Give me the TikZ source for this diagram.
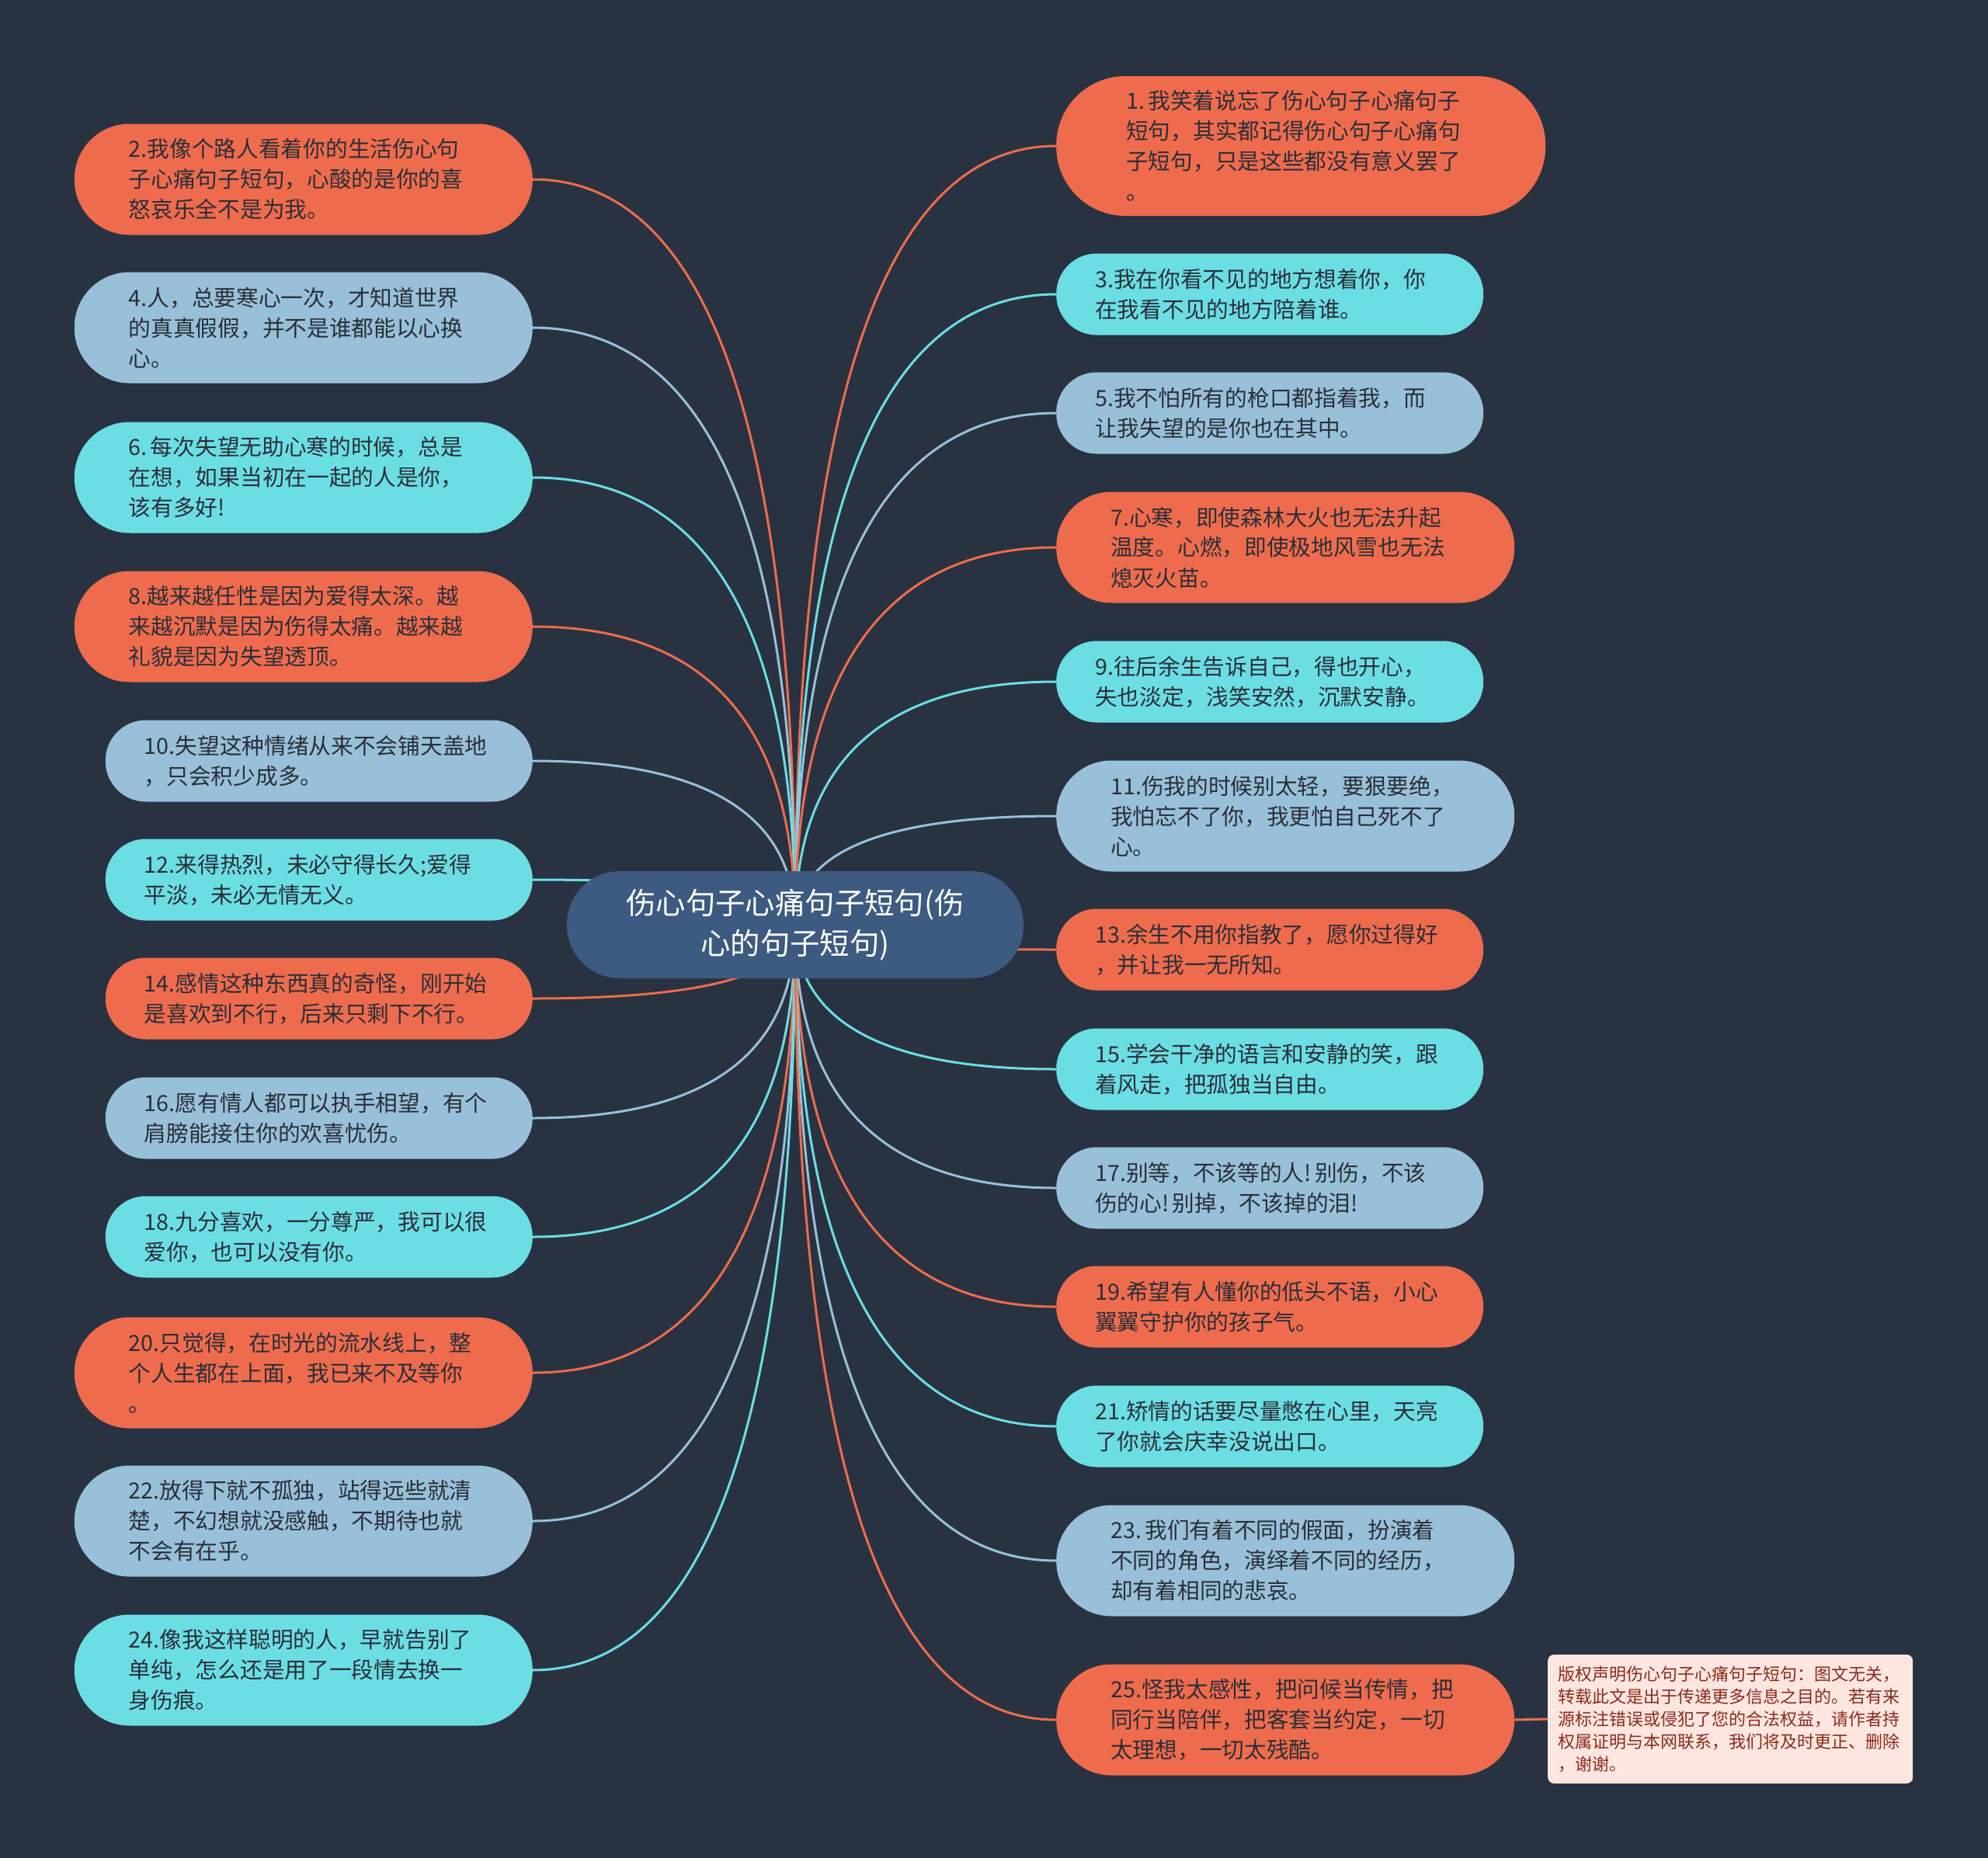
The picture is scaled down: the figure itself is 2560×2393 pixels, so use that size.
\documentclass[tikz,border=0pt]{standalone}
\usepackage{fontspec}
\setmainfont{Noto Sans CJK SC}
\usetikzlibrary{calc}
\definecolor{bgc}{HTML}{293241}
\definecolor{oc}{HTML}{EE6C4D}
\definecolor{cc}{HTML}{6BDEE4}
\definecolor{bc}{HTML}{98C1D9}
\definecolor{rc}{HTML}{3D5A80}
\definecolor{txc}{HTML}{2A2E38}
\definecolor{cpfill}{HTML}{FDE6E0}
\definecolor{cptext}{HTML}{8A2B1B}
\pgfdeclarelayer{bglayer}
\pgfdeclarelayer{linelayer}
\pgfsetlayers{bglayer,linelayer,main}
\newcommand{\leftconn}[2]{%
  \coordinate (tmpq) at (root.center |- #1.east);
  \draw[conn,draw=#2] (root.center) .. controls ($(root.center)!0.6667!(tmpq)$) and ($(#1.east)!0.6667!(tmpq)$) .. (#1.east);}
\newcommand{\rightconn}[2]{%
  \coordinate (tmpq) at (root.center |- #1.west);
  \draw[conn,draw=#2] (root.center) .. controls ($(root.center)!0.6667!(tmpq)$) and ($(#1.west)!0.6667!(tmpq)$) .. (#1.west);}
\newcommand{\nsp}{\hspace{0.15em}}
\begin{document}
\begin{tikzpicture}[x=1pt,y=-1pt,
  leaf/.style={inner sep=0pt, text width=450pt, align=left, text=txc,
    font={\fontsize{28.7}{39}\selectfont}},
  lfour/.style={leaf, minimum width=630pt, minimum height=180pt, rounded corners=89pt},
  lthree/.style={leaf, minimum width=590pt, minimum height=143pt, rounded corners=71pt},
  ltwo/.style={leaf, minimum width=550pt, minimum height=105pt, rounded corners=52pt},
  rootbox/.style={fill=rc, inner sep=0pt, minimum width=588pt, minimum height=138pt,
    rounded corners=68pt, align=center, text=white, font={\fontsize{38.4}{52}\selectfont}},
  cpbox/.style={fill=cpfill, inner sep=0pt, minimum width=470pt, minimum height=166pt,
    rounded corners=8pt, text width=444pt, align=left, text=cptext,
    font={\fontsize{22}{29}\selectfont}},
  conn/.style={line width=3pt}]
\begin{pgfonlayer}{bglayer}
  \fill[bgc] (0,0) rectangle (2560,2393);
\end{pgfonlayer}
\useasboundingbox (0,0) rectangle (2560,2393);

\node[rootbox] (root) at (1024,1191) {伤心句子心痛句子短句(伤\\心的句子短句)};

% left side
\node[lthree, fill=oc, anchor=east] (n2) at (686,231) {2.我像个路人看着你的生活伤心句\\子心痛句子短句，心酸的是你的喜\\怒哀乐全不是为我。};
\node[lthree, fill=bc, anchor=east] (n4) at (686,422) {4.人，总要寒心一次，才知道世界\\的真真假假，并不是谁都能以心换\\心。};
\node[lthree, fill=cc, anchor=east] (n6) at (686,615) {6.\nsp 每次失望无助心寒的时候，总是\\在想，如果当初在一起的人是你，\\该有多好!};
\node[lthree, fill=oc, anchor=east] (n8) at (686,807) {8.越来越任性是因为爱得太深。越\\来越沉默是因为伤得太痛。越来越\\礼貌是因为失望透顶。};
\node[ltwo, fill=bc, anchor=east] (n10) at (686,980) {10.失望这种情绪从来不会铺天盖地\\，只会积少成多。};
\node[ltwo, fill=cc, anchor=east] (n12) at (686,1133) {12.来得热烈，未必守得长久;爱得\\平淡，未必无情无义。};
\node[ltwo, fill=oc, anchor=east] (n14) at (686,1286) {14.感情这种东西真的奇怪，刚开始\\是喜欢到不行，后来只剩下不行。};
\node[ltwo, fill=bc, anchor=east] (n16) at (686,1440) {16.愿有情人都可以执手相望，有个\\肩膀能接住你的欢喜忧伤。};
\node[ltwo, fill=cc, anchor=east] (n18) at (686,1593) {18.九分喜欢，一分尊严，我可以很\\爱你，也可以没有你。};
\node[lthree, fill=oc, anchor=east] (n20) at (686,1768) {20.只觉得，在时光的流水线上，整\\个人生都在上面，我已来不及等你\\。};
\node[lthree, fill=bc, anchor=east] (n22) at (686,1959) {22.放得下就不孤独，站得远些就清\\楚，不幻想就没感触，不期待也就\\不会有在乎。};
\node[lthree, fill=cc, anchor=east] (n24) at (686,2151) {24.像我这样聪明的人，早就告别了\\单纯，怎么还是用了一段情去换一\\身伤痕。};

% right side
\node[lfour, fill=oc, anchor=west] (n1) at (1360,188) {1.\nsp 我笑着说忘了伤心句子心痛句子\\短句，其实都记得伤心句子心痛句\\子短句，只是这些都没有意义罢了\\。};
\node[ltwo, fill=cc, anchor=west] (n3) at (1360,379) {3.我在你看不见的地方想着你，你\\在我看不见的地方陪着谁。};
\node[ltwo, fill=bc, anchor=west] (n5) at (1360,532) {5.我不怕所有的枪口都指着我，而\\让我失望的是你也在其中。};
\node[lthree, fill=oc, anchor=west] (n7) at (1360,705) {7.心寒，即使森林大火也无法升起\\温度。心燃，即使极地风雪也无法\\熄灭火苗。};
\node[ltwo, fill=cc, anchor=west] (n9) at (1360,878) {9.往后余生告诉自己，得也开心，\\失也淡定，浅笑安然，沉默安静。};
\node[lthree, fill=bc, anchor=west] (n11) at (1360,1051) {11.伤我的时候别太轻，要狠要绝，\\我怕忘不了你，我更怕自己死不了\\心。};
\node[ltwo, fill=oc, anchor=west] (n13) at (1360,1223) {13.余生不用你指教了，愿你过得好\\，并让我一无所知。};
\node[ltwo, fill=cc, anchor=west] (n15) at (1360,1377) {15.学会干净的语言和安静的笑，跟\\着风走，把孤独当自由。};
\node[ltwo, fill=bc, anchor=west] (n17) at (1360,1530) {17.别等，不该等的人!\nsp 别伤，不该\\伤的心!\nsp 别掉，不该掉的泪!};
\node[ltwo, fill=oc, anchor=west] (n19) at (1360,1683) {19.希望有人懂你的低头不语，小心\\翼翼守护你的孩子气。};
\node[ltwo, fill=cc, anchor=west] (n21) at (1360,1837) {21.矫情的话要尽量憋在心里，天亮\\了你就会庆幸没说出口。};
\node[lthree, fill=bc, anchor=west] (n23) at (1360,2010) {23.\nsp 我们有着不同的假面，扮演着\\不同的角色，演绎着不同的经历，\\却有着相同的悲哀。};
\node[lthree, fill=oc, anchor=west] (n25) at (1360,2215) {25.怪我太感性，把问候当传情，把\\同行当陪伴，把客套当约定，一切\\太理想，一切太残酷。};

\node[cpbox, anchor=west] (cp) at (1993,2214) {版权声明伤心句子心痛句子短句：图文无关，\\转载此文是出于传递更多信息之目的。若有来\\源标注错误或侵犯了您的合法权益，请作者持\\权属证明与本网联系，我们将及时更正、删除\\，谢谢。};

\begin{pgfonlayer}{linelayer}
  \leftconn{n2}{oc}
  \leftconn{n4}{bc}
  \leftconn{n6}{cc}
  \leftconn{n8}{oc}
  \leftconn{n10}{bc}
  \leftconn{n12}{cc}
  \leftconn{n14}{oc}
  \leftconn{n16}{bc}
  \leftconn{n18}{cc}
  \leftconn{n20}{oc}
  \leftconn{n22}{bc}
  \leftconn{n24}{cc}
  \rightconn{n1}{oc}
  \rightconn{n3}{cc}
  \rightconn{n5}{bc}
  \rightconn{n7}{oc}
  \rightconn{n9}{cc}
  \rightconn{n11}{bc}
  \rightconn{n13}{oc}
  \rightconn{n15}{cc}
  \rightconn{n17}{bc}
  \rightconn{n19}{oc}
  \rightconn{n21}{cc}
  \rightconn{n23}{bc}
  \rightconn{n25}{oc}
  \draw[conn,draw=oc] (n25.east) -- (cp.west);
\end{pgfonlayer}
\end{tikzpicture}
\end{document}
